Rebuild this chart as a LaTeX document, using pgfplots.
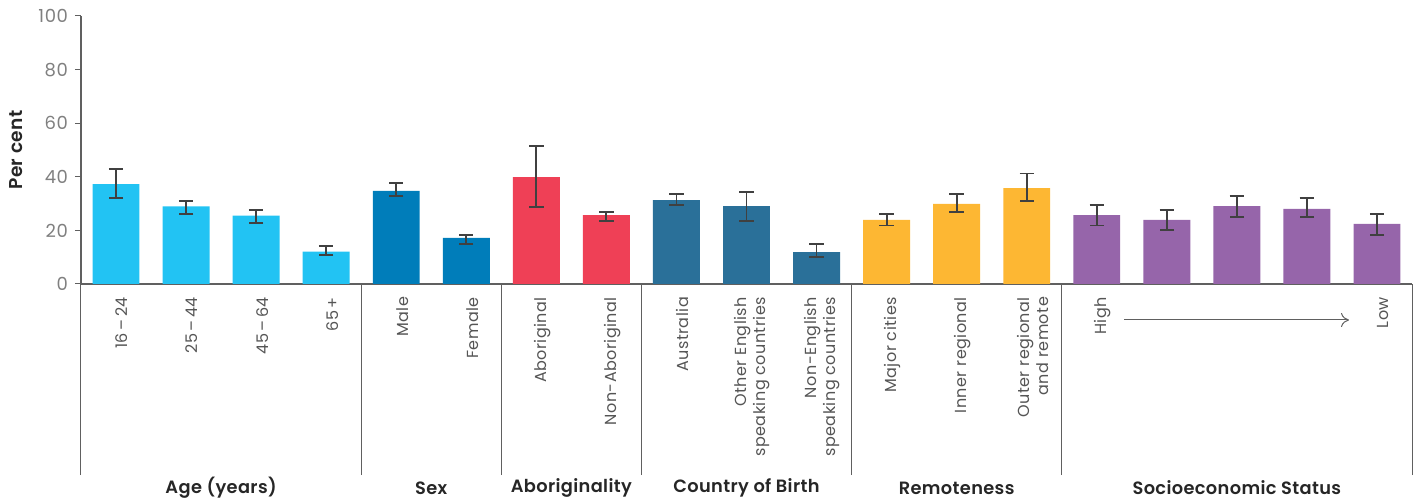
\documentclass[border=0pt]{standalone}
\usepackage{pgfplots}
\pgfplotsset{compat=1.18}
\usepackage{fontspec}
\setmainfont{Poppins}[BoldFont={* SemiBold}]
\newfontfamily\labfont[LetterSpace=3]{Poppins}
\newfontfamily\grpfont[LetterSpace=2]{Poppins SemiBold}
\usetikzlibrary{arrows.meta}
\definecolor{cage}{HTML}{22C3F3}
\definecolor{csex}{HTML}{007DBA}
\definecolor{cabo}{HTML}{EF4056}
\definecolor{ccob}{HTML}{2A7099}
\definecolor{crem}{HTML}{FDB733}
\definecolor{cses}{HTML}{9665AA}
\definecolor{errc}{HTML}{404040}
\definecolor{axc}{HTML}{606060}
\definecolor{labc}{HTML}{555555}
\definecolor{tickc}{HTML}{808080}
\begin{document}
\begin{tikzpicture}
\begin{axis}[
  scale only axis, width=665.5pt, height=134pt,
  xmin=-0.5, xmax=18.5, ymin=0, ymax=100,
  axis x line=bottom, axis y line=left,
  axis line style={draw=axc, line width=0.6pt, -},
  tick align=outside,
  ytick={0,20,40,60,80,100},
  y tick style={draw=axc, line width=0.5pt},
  major tick length=3pt,
  yticklabel style={text=tickc, font=\labfont\fontsize{9}{10}\selectfont},
  /pgf/number format/assume math mode=true,
  ylabel={Per cent},
  every axis y label/.style={at={(axis description cs:-0.0488,0.5)}, rotate=90, anchor=center, font=\grpfont\fontsize{9.3}{10}\selectfont, text=black!85},
  xtick={0,...,18},
  x tick style={draw=none},
  xticklabels={16\,–\,24,25\,–\,44,45\,–\,64,65\,+,Male,Female,Aboriginal,Non-Aboriginal,Australia,{Other English\\speaking countries},{Non-English\\speaking countries},Major cities,Inner regional,{Outer regional\\and remote},High,{},{},{},Low},
  xticklabel style={rotate=90, anchor=east, align=right, text=labc, font=\labfont\fontsize{8}{9.5}\selectfont, yshift=-3pt},
  extra x ticks={-0.5,3.5,5.5,7.5,10.5,13.5,18.5},
  extra x tick labels={},
  extra x tick style={x tick style={draw=axc, line width=0.5pt}, major tick length=95.5pt, tick align=outside},
  clip=false,
  error bars/error bar style={draw=errc, line width=0.9pt},
  error bars/error mark options={draw=errc, line width=0.9pt, mark size=3.6pt, rotate=90},
]
\addplot[ybar, bar shift=0pt, bar width=0.67, fill=cage, draw=none,
  error bars/.cd, y dir=both, y explicit] coordinates {
  (0,37.3) += (0,5.6) -= (0,5.3)
  (1,29.0) += (0,2.1) -= (0,2.9)
  (2,25.5) += (0,2.2) -= (0,2.7)
  (3,12.1) += (0,2.2) -= (0,1.3)
};
\addplot[ybar, bar shift=0pt, bar width=0.67, fill=csex, draw=none,
  error bars/.cd, y dir=both, y explicit] coordinates {
  (4,34.7) += (0,3.1) -= (0,1.9)
  (5,17.2) += (0,1.2) -= (0,2.2)
};
\addplot[ybar, bar shift=0pt, bar width=0.67, fill=cabo, draw=none,
  error bars/.cd, y dir=both, y explicit] coordinates {
  (6,39.9) += (0,11.5) -= (0,11.3)
  (7,25.7) += (0,1.3) -= (0,2.2)
};
\addplot[ybar, bar shift=0pt, bar width=0.67, fill=ccob, draw=none,
  error bars/.cd, y dir=both, y explicit] coordinates {
  (8,31.3) += (0,2.4) -= (0,1.8)
  (9,29.1) += (0,5.3) -= (0,5.6)
  (10,11.9) += (0,3.1) -= (0,1.8)
};
\addplot[ybar, bar shift=0pt, bar width=0.67, fill=crem, draw=none,
  error bars/.cd, y dir=both, y explicit] coordinates {
  (11,23.9) += (0,2.2) -= (0,2.1)
  (12,29.9) += (0,3.8) -= (0,2.9)
  (13,35.8) += (0,5.4) -= (0,4.7)
};
\addplot[ybar, bar shift=0pt, bar width=0.67, fill=cses, draw=none,
  error bars/.cd, y dir=both, y explicit] coordinates {
  (14,25.7) += (0,3.8) -= (0,3.9)
  (15,23.9) += (0,3.8) -= (0,3.8)
  (16,29.1) += (0,3.7) -= (0,4.0)
  (17,28.0) += (0,4.0) -= (0,2.9)
  (18,22.4) += (0,3.7) -= (0,4.0)
};
\draw[draw=axc, line width=0.5pt, -{To[length=4pt,width=7pt]}] ([yshift=-18pt]axis cs:14.39,0) -- ([yshift=-18pt]axis cs:17.6,0);
\begin{scope}[every node/.style={font=\grpfont\fontsize{8.9}{10}\selectfont, text=black!85, anchor=center}]
\node at ([yshift=-102pt]axis cs:1.5,0) {Age (years)};
\node at ([yshift=-102pt]axis cs:4.5,0) {Sex};
\node at ([yshift=-102pt]axis cs:6.5,0) {Aboriginality};
\node at ([yshift=-102pt]axis cs:9,0) {Country of Birth};
\node at ([yshift=-102pt]axis cs:12,0) {Remoteness};
\node at ([yshift=-102pt]axis cs:16,0) {Socioeconomic Status};
\end{scope}
\end{axis}
\pgfresetboundingbox
\useasboundingbox (-40.5pt,-108.5pt) rectangle (666pt,142pt);
\end{tikzpicture}
\end{document}
